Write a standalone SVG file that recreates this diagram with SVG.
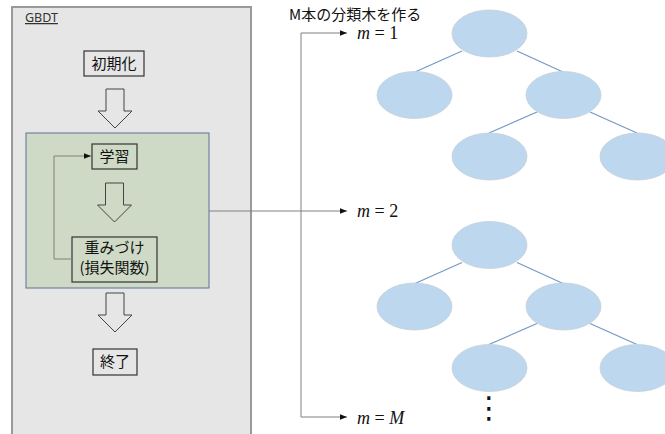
<svg xmlns="http://www.w3.org/2000/svg" width="665" height="434" viewBox="0 0 665 434">
<defs>
<style>
.jp{font-family:"Noto Sans CJK JP","Noto Sans",sans-serif;font-size:15px;fill:#111}
.box{fill:none;stroke:#333;stroke-width:1.2}
.blk{fill:none;stroke:#444;stroke-width:1}
.con{fill:none;stroke:#808080;stroke-width:1}
.node{fill:#bdd7ee;stroke:#c4cfd9;stroke-width:0.8}
.edge{stroke:#7399c6;stroke-width:1.2}
.math{font-family:"Liberation Serif",serif;font-size:18px;fill:#111}
</style>
<marker id="ah" viewBox="0 0 10 10" refX="10" refY="5" markerWidth="7" markerHeight="7" markerUnits="userSpaceOnUse" orient="auto">
<path d="M0,1 L10,5 L0,9 z" fill="#111"/>
</marker>
<path id="barrow" d="M-9,0 H9 V22 H17 L0,39 L-17,22 H-9 Z"/>
</defs>
<rect width="665" height="434" fill="#fff"/>
<g id="gbdt">
<rect x="12" y="7" width="239" height="440" fill="#e6e6e6" stroke="#999" stroke-width="2"/>
<text x="25" y="22" font-family="'Noto Sans','Liberation Sans',sans-serif" font-size="12.5" fill="#333" text-decoration="underline">GBDT</text>
</g>
<g id="loop">
<rect x="26" y="133" width="183" height="155" fill="#cfdac6" stroke="#5a7396" stroke-width="1"/>
</g>
<g id="init">
<rect class="box" x="84" y="51" width="60" height="25"/>
<text class="jp" x="114" y="69" text-anchor="middle">初期化</text>
</g>
<g id="arrow1"><use href="#barrow" class="blk" x="115" y="89"/></g>
<g id="learn">
<rect class="box" x="92" y="144" width="45" height="25"/>
<text class="jp" x="114.5" y="162" text-anchor="middle">学習</text>
</g>
<g id="arrow2"><use href="#barrow" class="blk" x="114.5" y="183"/></g>
<g id="weight">
<rect class="box" x="72" y="237" width="85" height="45"/>
<text class="jp" x="114.5" y="253" text-anchor="middle">重みづけ</text>
<text class="jp" x="114.5" y="273" text-anchor="middle">(損失関数)</text>
</g>
<g id="arrow3"><use href="#barrow" class="blk" x="115" y="293"/></g>
<g id="end">
<rect class="box" x="93" y="349" width="44" height="26"/>
<text class="jp" x="115" y="367" text-anchor="middle">終了</text>
</g>
<g id="title">
<text class="jp" x="289" y="20">M本の分類木を作る</text>
</g>
<g id="labels">
<text class="math" x="357" y="39"><tspan font-style="italic">m</tspan> = 1</text>
<text class="math" x="357" y="217"><tspan font-style="italic">m</tspan> = 2</text>
<text class="math" x="357" y="424"><tspan font-style="italic">m</tspan> = <tspan font-style="italic">M</tspan></text>
</g>
<g id="connectors">
<path class="con" d="M72,259 H54 V156 H91" marker-end="url(#ah)"/>
<path class="con" d="M209,211 H347" marker-end="url(#ah)"/>
<path class="con" d="M301,417 V33 H347" marker-end="url(#ah)"/>
<path class="con" d="M301,417 H347" marker-end="url(#ah)"/>
</g>
<g id="tree1">
<line class="edge" x1="462" y1="51" x2="415" y2="72"/>
<line class="edge" x1="517" y1="51" x2="563" y2="72"/>
<line class="edge" x1="537" y1="112" x2="489" y2="133"/>
<line class="edge" x1="590" y1="112" x2="637" y2="133"/>
<ellipse class="node" cx="489.5" cy="33.5" rx="37.5" ry="23.5"/>
<ellipse class="node" cx="414.5" cy="95" rx="37.5" ry="23.5"/>
<ellipse class="node" cx="563.5" cy="95" rx="37.5" ry="23.5"/>
<ellipse class="node" cx="489.5" cy="156.5" rx="37.5" ry="23.5"/>
<ellipse class="node" cx="637.5" cy="156.5" rx="37.5" ry="23.5"/>
</g>
<g id="tree2" transform="translate(0,211.5)">
<line class="edge" x1="462" y1="51" x2="415" y2="72"/>
<line class="edge" x1="517" y1="51" x2="563" y2="72"/>
<line class="edge" x1="537" y1="112" x2="489" y2="133"/>
<line class="edge" x1="590" y1="112" x2="637" y2="133"/>
<ellipse class="node" cx="489.5" cy="33.5" rx="37.5" ry="23.5"/>
<ellipse class="node" cx="414.5" cy="95" rx="37.5" ry="23.5"/>
<ellipse class="node" cx="563.5" cy="95" rx="37.5" ry="23.5"/>
<ellipse class="node" cx="489.5" cy="156.5" rx="37.5" ry="23.5"/>
<ellipse class="node" cx="637.5" cy="156.5" rx="37.5" ry="23.5"/>
</g>
<g id="dots">
<text x="489" y="418" text-anchor="middle" font-family="'DejaVu Sans',sans-serif" font-size="30" fill="#111">⋮</text>
</g>
</svg>
